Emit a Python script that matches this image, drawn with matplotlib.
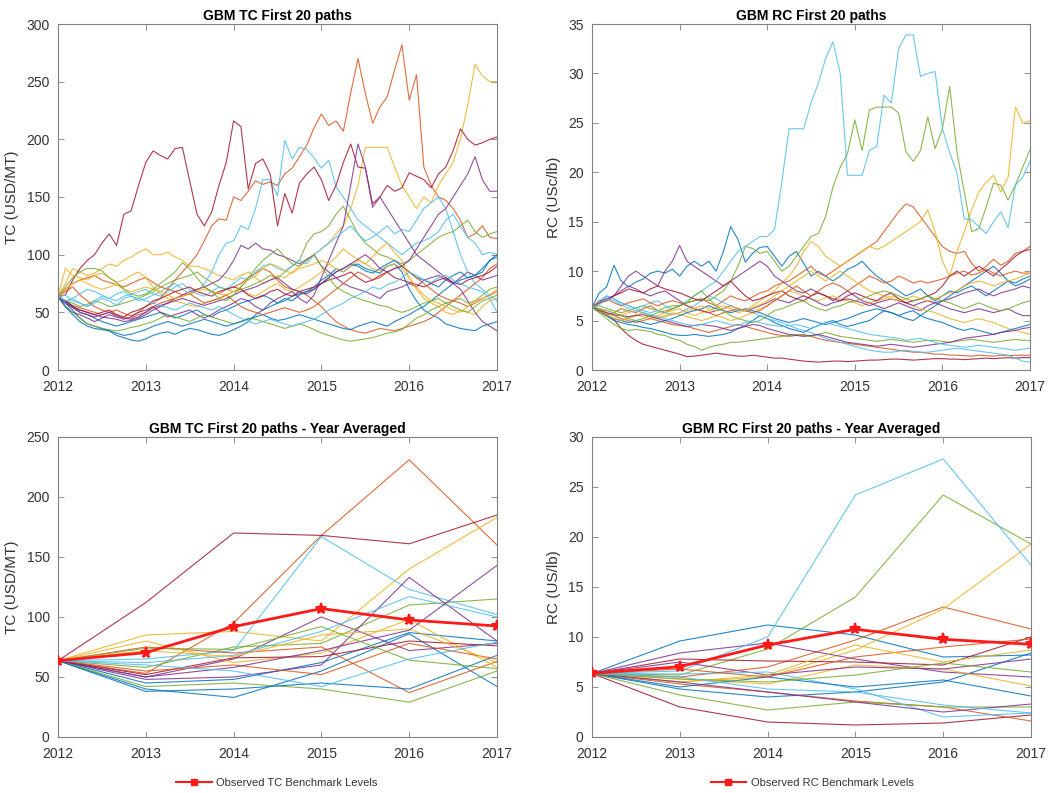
import numpy as np
import matplotlib
matplotlib.use("Agg")
import matplotlib.pyplot as plt
from matplotlib.lines import Line2D

plt.rcParams['font.family'] = ['Liberation Sans', 'DejaVu Sans']

# ---------------- DATA ----------------
year_ticks = [2012, 2013, 2014, 2015, 2016, 2017]
n_months = 61  # monthly steps 2012..2017

# TC monthly paths (USD/MT)
tc_p01 = [63.6,58,52,45,40,38,36,34,30,28,26,25, 27,30,32,33,31,34,36,35,33,31,30,32, 35,38,42,48,52,55,58,62,60,65,68,72, 78,82,88,85,90,92,88,86,84,90,92,85, 70,60,52,48,45,40,38,36,35,34,38,40, 42]
tc_p02 = [63.6,60,56,54,52,50,48,50,52,49,47,50, 55,58,62,70,78,85,92,100,112,125,131,130, 150,147,155,164,161,163,160,170,175,185,195,210, 222,212,216,207,240,270,240,214,228,237,260,282, 234,256,176,160,150,147,140,130,115,118,125,115, 114]
tc_p03 = [63.6,75,88,85,82,84,88,92,90,95,98,102, 105,100,100,102,98,95,90,90,88,85,82,80, 78,82,85,80,75,78,82,80,85,90,95,100, 105,110,118,125,140,160,193,193,193,193,176,160, 150,140,150,145,160,170,180,200,230,265,255,250, 250]
tc_p04 = [63.6,58,55,52,50,48,46,45,44,42,43,45, 48,52,55,58,62,65,68,70,72,75,78,85, 95,108,105,110,105,104,100,98,95,92,96,100, 90,85,80,75,72,70,68,65,62,68,70,72, 75,72,78,80,82,78,75,80,85,82,78,80, 82]
tc_p05 = [63.6,60,58,55,57,60,58,55,56,58,60,62, 65,68,72,75,78,80,82,85,80,76,72,70, 68,70,72,75,78,82,80,85,90,95,110,118, 120,125,135,142,130,118,110,105,100,98,95,92, 95,100,105,110,115,118,120,125,130,120,115,118, 120]
tc_p06 = [63.6,58,62,66,70,68,65,62,66,68,64,60, 62,65,68,72,75,70,66,68,75,85,100,110, 112,125,122,140,165,165,151,199,183,193,191,184, 175,182,159,150,140,130,125,120,115,110,105,100, 105,110,112,115,120,130,135,125,115,110,100,102, 100]
tc_p07 = [63.6,65,78,88,95,100,110,118,108,135,138,160, 180,190,186,183,192,193,164,135,125,137,160,180, 216,211,157,179,183,170,125,153,136,162,170,176, 165,147,160,180,196,176,175,144,150,160,155,158, 171,168,165,158,170,176,190,209,200,195,197,200, 202]
tc_p08 = [63.6,60,55,50,48,45,42,40,38,40,42,44, 46,48,50,48,45,47,50,52,48,46,50,52, 55,58,60,62,65,62,58,60,64,66,68,70, 75,80,85,88,92,90,86,84,88,92,95,90, 85,80,78,75,72,78,82,85,80,82,88,95, 98]
tc_p09 = [63.6,70,75,78,80,82,78,76,74,72,75,78, 80,76,72,70,68,65,66,70,72,68,66,70, 72,75,80,84,88,85,78,72,70,68,65,60, 55,48,42,38,35,33,32,34,36,35,34,36, 38,40,42,45,50,55,60,65,70,75,80,88, 92]
tc_p10 = [63.6,88,82,80,78,82,84,80,76,78,82,85, 80,72,66,62,60,58,56,55,58,60,62,65, 68,70,66,64,68,72,75,70,68,72,76,80, 85,92,98,105,100,96,92,98,105,110,102,95, 80,70,62,58,55,50,48,52,50,48,55,60, 62]
tc_p11 = [63.6,55,50,48,45,42,45,48,46,44,46,50, 52,55,50,46,48,50,52,48,45,48,52,55, 58,62,60,55,52,58,62,65,68,62,58,65, 80,95,110,125,160,196,176,141,150,140,130,120, 110,100,95,90,85,80,75,70,60,50,42,38, 34]
tc_p12 = [63.6,55,50,45,40,38,36,35,34,35,37,38, 40,42,45,48,46,44,42,45,48,46,44,42, 40,42,45,44,42,40,38,36,38,40,38,35, 32,30,28,26,25,26,27,28,30,32,33,35, 40,45,48,52,55,58,60,62,58,60,65,70, 72]
tc_p13 = [63.6,65,60,58,55,60,64,62,60,64,66,68, 70,66,64,68,72,75,70,66,64,68,72,70, 75,80,78,85,90,92,88,86,90,95,92,100, 105,110,115,120,125,118,112,115,120,125,118,122, 120,130,140,145,150,140,120,100,85,75,70,65, 60]
tc_p14 = [63.6,60,55,52,50,48,50,52,48,46,50,52, 55,60,62,65,68,70,72,68,66,64,68,70, 72,70,65,62,64,68,70,66,64,68,70,72, 75,78,80,82,85,80,76,78,82,85,80,78, 76,74,72,75,78,80,76,74,78,80,82,85, 90]
tc_p15 = [63.6,55,48,42,38,36,35,34,32,30,31,33, 35,38,40,42,40,38,40,42,44,42,40,38, 40,42,44,46,48,45,43,44,46,48,46,44, 42,40,38,36,35,38,40,42,40,38,42,45, 48,52,55,60,65,70,75,78,80,82,85,95, 100]
tc_p16 = [63.6,68,72,65,60,55,52,50,48,46,45,48, 50,55,58,60,62,64,66,62,58,60,62,65, 60,55,52,50,48,50,52,54,52,50,52,55, 60,65,70,75,80,85,82,78,80,85,88,90, 85,80,75,70,65,62,60,58,55,58,62,65, 68]
tc_p17 = [63.6,70,75,78,75,72,70,72,74,70,68,70, 72,70,68,65,62,64,66,68,70,68,66,65, 68,72,78,82,88,92,90,86,84,88,90,92, 95,92,88,85,90,95,92,88,86,90,92,88, 80,72,65,60,58,55,52,50,55,60,62,65, 70]
tc_p18 = [63.6,58,54,50,48,46,48,50,47,45,44,46, 50,54,56,58,60,62,60,58,56,58,60,62, 65,68,70,72,75,78,80,75,70,68,66,70, 75,80,85,88,92,96,100,95,88,85,88,90, 95,105,115,125,135,140,150,160,170,185,165,155, 155]
tc_p19 = [63.6,72,80,85,88,88,86,80,76,70,66,64, 66,70,75,80,85,93,88,80,72,68,62,60, 65,72,80,88,95,100,105,98,92,90,95,100, 90,80,72,68,65,62,60,58,56,55,52,50, 52,55,58,60,62,58,55,52,50,55,60,62, 65]
tc_p20 = [63.6,60,62,58,55,58,62,60,56,62,64,62, 60,58,56,54,52,55,58,56,54,52,55,52, 48,45,42,40,42,44,42,40,38,40,42,44, 48,52,55,58,62,65,68,72,70,74,76,80, 85,82,78,76,80,82,78,75,72,70,68,62, 50]

# RC monthly paths (USc/lb)
rc_p01 = [6.35,7.8,8.4,10.6,9.0,8.4,8.9,9.2,9.8,10.0,9.8,10.2, 9.5,10.5,11.0,10.5,11.0,10.0,12.0,14.5,13.2,10.9,11.8,12.4, 12.5,11.5,10.5,11.5,12.0,10.8,9.5,10.0,9.5,9.0,9.5,10.2, 10.5,11.0,10.2,9.5,9.0,8.5,8.0,7.5,7.8,8.2,7.5,7.0, 7.5,8.0,7.8,8.2,8.5,8.0,7.5,8.0,8.5,9.0,8.8,9.2, 9.5]
rc_p02 = [6.35,6.0,5.6,5.8,6.2,6.0,5.8,6.2,6.5,6.0,5.8,6.2, 6.5,6.8,7.0,7.2,6.8,6.5,7.0,7.5,7.2,7.0,7.4,7.8, 8.0,8.5,8.8,9.0,9.5,10.0,10.5,9.8,9.5,10.0,10.5,11.0, 11.5,12.0,12.5,13.0,14.0,15.0,16.0,16.8,16.5,15.5,14.5,13.5, 12.5,12.0,11.8,12.0,10.8,10.0,10.5,11.2,10.6,11.0,11.8,12.0, 12.5]
rc_p03 = [6.35,5.8,5.5,5.2,5.0,5.3,5.6,5.4,5.2,5.5,5.8,6.0, 6.2,5.8,5.5,5.8,6.0,6.3,6.5,6.2,5.8,6.0,6.5,7.0, 7.5,8.0,8.8,9.5,10.5,12.0,13.0,12.5,11.5,11.0,10.5,11.0, 11.5,12.0,12.5,12.2,12.5,13.0,13.5,14.0,14.5,15.0,16.2,14.0, 11.0,9.5,12.0,14.0,16.2,18.0,19.0,19.7,18.0,19.5,26.6,25.0, 25.2]
rc_p04 = [6.35,7.0,7.2,7.5,8.5,9.5,10.0,9.5,9.0,8.5,10.0,11.0, 12.6,11.0,10.5,10.0,9.5,9.0,8.5,9.0,9.5,10.0,10.5,11.0, 10.5,9.5,9.0,8.5,8.0,7.8,8.2,7.8,7.5,7.0,7.5,8.0, 7.5,7.0,6.8,6.5,6.2,6.5,6.8,6.5,6.2,6.0,6.5,6.8, 6.5,6.2,6.0,5.8,6.0,6.2,6.0,5.8,6.0,6.2,5.8,5.5, 5.5]
rc_p05 = [6.35,6.5,6.2,6.0,5.8,6.0,6.3,6.5,6.2,6.0,6.3,6.5, 6.5,6.8,7.0,7.2,7.0,7.5,8.0,9.0,10.5,12.5,12.3,11.8, 12.0,11.0,10.0,10.5,11.5,12.5,13.5,13.8,15.5,18.5,20.5,21.9, 25.3,22.2,26.3,26.6,26.6,26.6,26.0,22.1,21.1,22.2,25.6,22.4, 24.4,28.7,22.0,18.0,14.0,14.3,16.5,18.9,18.7,17.2,18.7,20.5, 22.3]
rc_p06 = [6.35,6.8,7.5,7.2,6.8,6.5,6.2,6.5,6.8,7.0,6.5,6.2, 6.5,7.0,7.5,8.0,8.5,9.0,10.0,11.0,12.0,12.5,13.0,13.5, 13.5,14.2,19.0,24.4,24.4,24.4,27.0,29.0,31.5,33.2,30.0,19.7, 19.7,19.7,22.2,22.6,27.8,27.0,32.5,33.9,33.9,29.7,30.0,30.2, 24.4,22.0,19.9,15.3,15.2,14.5,13.8,15.0,16.0,14.4,18.7,19.5, 21.1]
rc_p07 = [6.35,6.0,5.6,5.1,4.2,3.5,3.0,2.6,2.4,2.2,2.0,1.8, 1.6,1.35,1.4,1.5,1.6,1.7,1.6,1.5,1.4,1.4,1.5,1.4, 1.3,1.2,1.2,1.1,1.0,0.9,0.85,0.8,0.85,0.9,0.9,0.85, 0.9,0.95,1.0,1.0,1.05,1.1,1.1,1.05,1.0,1.05,1.1,1.15, 1.15,1.1,1.1,1.05,1.1,1.15,1.2,1.15,1.2,1.25,1.2,1.25, 1.25]
rc_p08 = [6.35,6.0,5.5,5.0,4.8,4.6,4.5,4.3,4.2,4.0,3.8,3.6, 3.5,3.5,3.6,3.5,3.4,3.5,3.6,3.8,4.2,4.5,5.0,5.5, 5.2,4.8,4.5,4.2,4.0,3.8,4.2,4.5,4.8,5.0,4.6,4.4, 4.6,4.8,5.0,5.5,6.0,5.8,5.5,5.2,5.0,5.5,6.0,6.5, 7.0,7.5,8.0,8.5,9.0,9.5,10.0,10.5,9.8,9.0,8.5,8.8, 9.2]
rc_p09 = [6.35,6.2,5.8,5.5,5.2,5.0,4.8,5.0,5.2,5.0,4.8,4.6, 4.5,4.4,4.2,4.0,3.8,4.0,4.2,4.4,4.6,4.4,4.2,4.0, 3.8,3.6,3.5,3.4,3.5,3.6,3.4,3.2,3.0,2.9,2.8,2.7, 2.6,2.5,2.4,2.3,2.2,2.1,2.0,1.9,1.8,1.8,1.7,1.6, 1.6,1.5,1.5,1.45,1.4,1.5,1.45,1.4,1.5,1.45,1.5,1.5, 1.5]
rc_p10 = [6.35,6.0,5.8,5.5,5.6,5.8,6.0,5.8,5.5,5.3,5.5,5.8, 5.6,5.4,5.2,5.0,5.2,5.5,5.3,5.0,5.2,5.5,5.8,6.2, 6.5,7.0,7.5,8.0,7.8,7.5,7.2,7.0,7.3,7.5,7.2,7.0, 6.8,6.5,6.8,7.0,7.2,7.5,7.2,6.8,6.5,6.2,6.0,5.8, 5.5,5.2,5.0,4.8,5.0,5.2,5.0,4.8,4.5,4.2,4.0,3.8, 3.6]
rc_p11 = [6.35,6.8,7.2,7.5,8.0,8.5,8.2,7.8,7.5,7.8,8.0,7.5, 7.0,6.5,6.2,6.0,5.8,6.0,6.2,6.5,6.2,6.0,6.2,6.5, 6.8,7.2,7.0,6.8,7.2,7.5,7.2,6.8,6.5,6.8,7.0,7.2, 7.0,6.8,6.5,6.8,7.0,7.2,7.0,6.8,6.5,6.8,7.0,6.8, 7.0,7.2,7.5,7.8,8.0,8.2,7.8,7.5,7.8,8.0,8.2,8.5, 8.3]
rc_p12 = [6.35,5.8,5.2,4.6,4.2,4.0,4.1,4.0,3.9,3.6,3.5,3.2, 3.0,2.6,2.4,2.0,2.3,2.5,2.6,2.8,2.8,2.9,3.0,3.1, 3.2,3.3,3.4,3.5,3.6,3.5,3.4,3.6,3.8,3.6,3.4,3.3, 3.2,3.1,3.0,2.9,3.0,3.1,3.0,2.9,2.8,2.9,3.0,3.0, 2.9,2.8,2.9,3.0,3.1,3.0,2.9,2.8,2.9,3.0,3.1,3.0, 3.0]
rc_p13 = [6.35,7.0,7.5,7.2,6.8,6.5,6.2,6.0,5.8,6.0,5.8,5.6, 5.8,6.2,6.5,7.0,7.5,7.2,6.8,6.5,6.2,6.0,5.8,5.5, 5.2,5.0,4.8,4.5,4.2,4.0,3.8,3.5,3.2,3.0,2.8,2.6, 2.4,2.2,2.0,1.9,1.8,1.8,1.9,2.0,1.9,1.8,1.8,1.9, 2.0,2.1,2.2,2.1,2.0,1.9,1.8,1.7,1.6,1.5,1.2,0.9, 0.8]
rc_p14 = [6.35,6.8,7.0,7.5,7.8,8.2,8.0,7.8,8.2,8.5,8.2,8.0, 7.8,7.5,7.2,7.0,7.5,8.0,8.5,9.0,8.2,7.5,7.0,7.2, 7.5,7.8,8.0,7.5,7.2,7.0,7.5,7.8,7.5,7.2,7.0,7.5, 7.8,7.5,7.2,7.0,7.5,7.8,7.2,6.8,7.0,7.2,7.5,7.8, 8.5,9.5,10.0,9.5,10.0,10.5,10.0,9.5,10.2,10.8,11.5,12.0, 12.2]
rc_p15 = [6.35,6.0,5.5,5.2,5.0,4.8,5.0,4.8,4.6,4.8,5.0,5.2, 5.5,5.8,6.0,6.2,6.5,6.2,6.0,5.8,6.0,6.2,6.0,5.8, 5.5,5.2,5.0,4.8,5.0,5.2,5.0,4.8,4.6,4.8,5.0,5.2, 5.5,5.8,6.0,6.2,6.0,5.8,5.5,5.8,6.0,5.5,5.2,5.0, 4.8,4.5,4.2,4.0,4.2,4.0,3.8,3.6,3.8,4.0,4.2,4.4, 4.6]
rc_p16 = [6.35,6.8,7.2,6.8,6.5,6.8,7.0,7.2,6.8,6.5,6.8,7.0, 6.8,6.5,6.2,6.0,5.8,5.5,5.8,6.0,6.2,6.0,5.8,6.0, 6.5,7.0,7.5,8.0,8.5,8.0,7.5,8.0,8.5,8.8,8.5,8.0, 8.5,9.0,9.5,9.2,8.8,9.0,9.5,9.2,8.8,9.0,8.8,9.0, 9.2,9.5,9.8,10.0,9.6,9.8,10.2,9.8,9.5,9.8,10.0,9.8, 9.8]
rc_p17 = [6.35,6.0,5.6,5.2,5.0,5.2,5.5,5.8,5.5,5.2,5.4,5.6, 5.8,6.0,6.2,6.5,6.2,6.0,6.2,6.5,6.2,6.0,6.3,6.6, 7.0,7.5,8.0,8.5,9.0,9.5,10.0,9.5,9.0,9.5,10.0,9.5, 9.0,8.5,8.0,7.8,7.5,7.2,7.0,7.2,7.5,7.2,7.0,7.2, 7.5,7.8,8.0,8.5,8.8,9.0,8.8,8.5,8.8,9.0,9.2,9.5, 9.8]
rc_p18 = [6.35,6.0,5.8,5.6,5.5,5.4,5.5,5.6,5.4,5.2,5.0,4.8, 4.6,4.4,4.5,4.6,4.5,4.4,4.2,4.0,4.2,4.4,4.6,4.5, 4.2,4.0,3.8,3.6,3.5,3.4,3.5,3.6,3.4,3.2,3.0,2.8, 2.7,2.6,2.5,2.4,2.5,2.6,2.5,2.4,2.3,2.4,2.5,2.6, 2.7,2.8,3.0,3.2,3.3,3.4,3.5,3.6,3.8,3.9,4.0,4.2, 4.3]
rc_p19 = [6.35,6.2,6.0,5.8,5.5,5.2,5.0,5.2,5.5,5.8,6.0,6.2, 6.5,6.8,7.5,8.0,7.2,6.5,6.0,5.5,5.2,5.0,4.8,5.0, 5.5,6.0,6.2,6.5,6.8,7.0,6.5,6.2,6.0,6.3,6.5,6.8, 7.0,7.2,7.5,7.8,8.0,7.8,7.5,7.2,7.0,7.2,7.5,7.2, 7.0,6.8,6.5,6.2,6.5,6.8,6.5,6.2,6.0,6.2,6.5,6.8, 7.0]
rc_p20 = [6.35,6.6,7.2,7.0,6.6,6.2,6.0,5.8,5.6,5.4,5.2,5.0, 4.8,4.6,4.5,4.6,4.8,5.0,4.8,4.6,4.5,4.8,5.0,4.8, 4.6,4.5,4.4,4.5,4.6,4.4,4.2,4.5,4.8,4.6,4.4,4.2, 4.0,3.8,3.6,3.5,3.4,3.3,3.2,3.0,3.1,3.2,3.0,2.8, 2.6,2.5,2.4,2.3,2.4,2.5,2.4,2.3,2.2,2.1,2.0,2.1, 2.2]

# TC year averaged paths (values at 2012..2017)
tc_y01 = [63.6, 40, 33, 55, 86, 42]
tc_y02 = [63.6, 53, 95, 168, 231, 160]
tc_y03 = [63.6, 85, 88, 80, 140, 183]
tc_y04 = [63.6, 50, 65, 100, 72, 78]
tc_y05 = [63.6, 58, 75, 78, 110, 115]
tc_y06 = [63.6, 65, 72, 167, 123, 102]
tc_y07 = [63.6, 112, 170, 168, 161, 185]
tc_y08 = [63.6, 45, 48, 62, 87, 80]
tc_y09 = [63.6, 75, 70, 75, 37, 63]
tc_y10 = [63.6, 80, 62, 70, 98, 58]
tc_y11 = [63.6, 48, 50, 60, 133, 80]
tc_y12 = [63.6, 42, 45, 40, 29, 55]
tc_y13 = [63.6, 62, 68, 88, 117, 100]
tc_y14 = [63.6, 52, 66, 67, 80, 76]
tc_y15 = [63.6, 38, 40, 45, 40, 68]
tc_y16 = [63.6, 55, 60, 52, 78, 65]
tc_y17 = [63.6, 72, 67, 85, 90, 62]
tc_y18 = [63.6, 50, 58, 72, 89, 143]
tc_y19 = [63.6, 74, 73, 92, 64, 57]
tc_y20 = [63.6, 60, 55, 42, 65, 79]
tc_benchmark = [63.6, 70.3, 92.0, 107.0, 97.5, 92.5]

# RC year averaged paths
rc_y01 = [6.35, 9.6, 11.2, 10.2, 8.0, 8.2]
rc_y02 = [6.35, 6.0, 7.0, 9.7, 13.0, 10.8]
rc_y03 = [6.35, 5.5, 6.0, 8.7, 12.8, 19.3]
rc_y04 = [6.35, 8.4, 9.4, 7.8, 6.5, 6.0]
rc_y05 = [6.35, 6.2, 8.8, 14.0, 24.2, 19.3]
rc_y06 = [6.35, 6.6, 10.0, 24.2, 27.8, 17.2]
rc_y07 = [6.35, 3.0, 1.5, 1.2, 1.4, 2.2]
rc_y08 = [6.35, 4.8, 4.0, 4.5, 5.5, 8.4]
rc_y09 = [6.35, 5.3, 4.5, 3.6, 3.0, 1.6]
rc_y10 = [6.35, 5.8, 5.3, 7.2, 6.8, 5.1]
rc_y11 = [6.35, 7.5, 6.2, 7.0, 6.8, 7.8]
rc_y12 = [6.35, 4.2, 2.7, 3.5, 3.0, 3.0]
rc_y13 = [6.35, 6.3, 6.5, 4.8, 2.0, 2.4]
rc_y14 = [6.35, 7.8, 7.6, 7.5, 7.2, 10.0]
rc_y15 = [6.35, 5.0, 6.0, 5.0, 5.7, 4.1]
rc_y16 = [6.35, 6.8, 6.0, 8.0, 9.0, 9.8]
rc_y17 = [6.35, 5.5, 6.2, 9.2, 7.5, 8.7]
rc_y18 = [6.35, 5.5, 4.5, 3.5, 2.5, 3.3]
rc_y19 = [6.35, 5.8, 5.5, 6.2, 7.4, 6.5]
rc_y20 = [6.35, 6.0, 4.8, 4.5, 3.2, 2.4]
rc_benchmark = [6.37, 7.03, 9.2, 10.77, 9.77, 9.27]

tc_monthly = [tc_p01, tc_p02, tc_p03, tc_p04, tc_p05, tc_p06, tc_p07, tc_p08, tc_p09, tc_p10,
              tc_p11, tc_p12, tc_p13, tc_p14, tc_p15, tc_p16, tc_p17, tc_p18, tc_p19, tc_p20]
rc_monthly = [rc_p01, rc_p02, rc_p03, rc_p04, rc_p05, rc_p06, rc_p07, rc_p08, rc_p09, rc_p10,
              rc_p11, rc_p12, rc_p13, rc_p14, rc_p15, rc_p16, rc_p17, rc_p18, rc_p19, rc_p20]
tc_yearly = [tc_y01, tc_y02, tc_y03, tc_y04, tc_y05, tc_y06, tc_y07, tc_y08, tc_y09, tc_y10,
             tc_y11, tc_y12, tc_y13, tc_y14, tc_y15, tc_y16, tc_y17, tc_y18, tc_y19, tc_y20]
rc_yearly = [rc_y01, rc_y02, rc_y03, rc_y04, rc_y05, rc_y06, rc_y07, rc_y08, rc_y09, rc_y10,
             rc_y11, rc_y12, rc_y13, rc_y14, rc_y15, rc_y16, rc_y17, rc_y18, rc_y19, rc_y20]

# ---------------- STYLE ----------------
matlab_colors = ['#0072BD', '#D95319', '#EDB120', '#7E2F8E', '#77AC30', '#4DBEEE', '#A2142F']
months = 2012 + np.arange(n_months) / 12.0
txt_col = '#333333'
ax_col = '#808080'

fig = plt.figure(figsize=(10.48, 7.93), dpi=100)
W, H = 1048.0, 793.0

def make_ax(l, r, t, b):
    return fig.add_axes([l / W, 1 - b / H, (r - l) / W, (b - t) / H])

ax_tc = make_ax(58, 497, 24, 370)
ax_rc = make_ax(592, 1030, 24, 370)
ax_tcy = make_ax(58, 497, 437, 737)
ax_rcy = make_ax(592, 1031, 437, 737)

def style(ax, ylim, yticks, ylabel, title):
    ax.set_xlim(2012, 2017)
    ax.set_ylim(*ylim)
    ax.set_xticks(year_ticks)
    ax.set_xticklabels([str(y) for y in year_ticks])
    ax.set_yticks(yticks)
    ax.tick_params(direction='in', length=4, width=0.6, colors=ax_col,
                   labelcolor=txt_col, labelsize=10, top=True, right=True)
    ax.tick_params(axis='x', pad=7)
    ax.tick_params(axis='y', pad=6)
    for s in ax.spines.values():
        s.set_color(ax_col)
        s.set_linewidth(0.8)
    ax.set_ylabel(ylabel, fontsize=11, color=txt_col, labelpad=5)
    ax.set_title(title, fontsize=10, fontweight='bold', color='black', pad=3)

LW, ALPHA = 0.8, 0.85
for i, p in enumerate(tc_monthly):
    ax_tc.plot(months, p, color=matlab_colors[i % 7], lw=LW, alpha=ALPHA)
style(ax_tc, (0, 300), np.arange(0, 301, 50), 'TC (USD/MT)', 'GBM TC First 20 paths')

for i, p in enumerate(rc_monthly):
    ax_rc.plot(months, p, color=matlab_colors[i % 7], lw=LW, alpha=ALPHA)
style(ax_rc, (0, 35), np.arange(0, 36, 5), 'RC (USc/lb)', 'GBM RC First 20 paths')

for i, p in enumerate(tc_yearly):
    ax_tcy.plot(year_ticks, p, color=matlab_colors[i % 7], lw=LW, alpha=ALPHA)
ax_tcy.plot(year_ticks, tc_benchmark, color='#ff1a1a', lw=2, marker='*', ms=8, mew=1.5, zorder=5)
style(ax_tcy, (0, 250), np.arange(0, 251, 50), 'TC (USD/MT)', 'GBM TC First 20 paths - Year Averaged')

for i, p in enumerate(rc_yearly):
    ax_rcy.plot(year_ticks, p, color=matlab_colors[i % 7], lw=LW, alpha=ALPHA)
ax_rcy.plot(year_ticks, rc_benchmark, color='#ff1a1a', lw=2, marker='*', ms=8, mew=1.5, zorder=5)
style(ax_rcy, (0, 30), np.arange(0, 31, 5), 'RC (US/lb)', 'GBM RC First 20 paths - Year Averaged')

def bench_handle():
    return Line2D([0], [0], color='#ff1a1a', lw=1.5, marker='s', ms=4)

fig.legend([bench_handle()], ['Observed TC Benchmark Levels'], loc='center',
           bbox_to_anchor=(277 / W, 1 - 783 / H), frameon=False, fontsize=8,
           handlelength=3.2, handletextpad=0.4, labelcolor=txt_col)
fig.legend([bench_handle()], ['Observed RC Benchmark Levels'], loc='center',
           bbox_to_anchor=(812 / W, 1 - 783 / H), frameon=False, fontsize=8,
           handlelength=3.2, handletextpad=0.4, labelcolor=txt_col)

fig.savefig('out.png', dpi=100, facecolor='white')
